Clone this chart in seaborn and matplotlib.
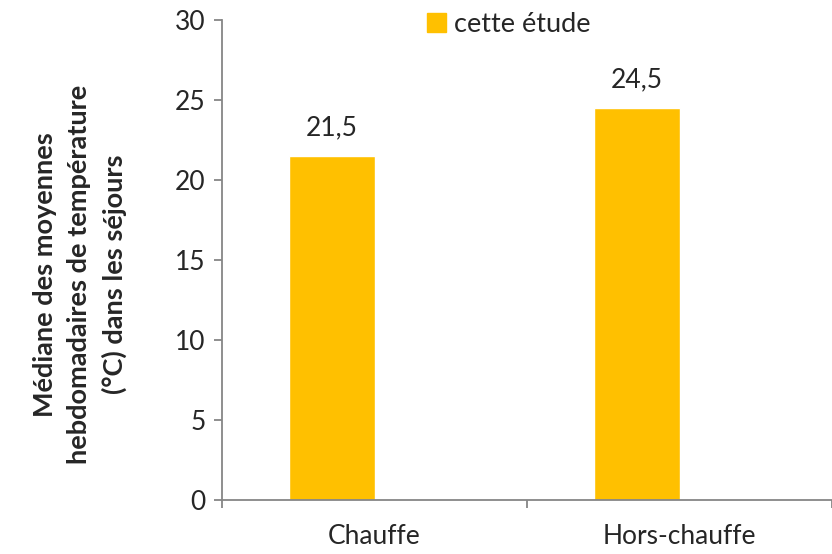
import matplotlib
matplotlib.use("Agg")
import matplotlib.pyplot as plt
import seaborn as sns
import pandas as pd
import numpy as np
from matplotlib.patches import Patch

periodes = ["Chauffe", "Hors-chauffe"]
medianes = [21.5, 24.5]
# second (empty) series kept so the bar sits on the left of each category, as in the source
medianes_vide = [np.nan, np.nan]
etiquettes = ["21,5", "24,5"]
y_ticks = [0, 5, 10, 15, 20, 25, 30]

df = pd.DataFrame({
    "periode": periodes * 2,
    "mediane": medianes + medianes_vide,
    "serie": ["cette étude"] * 2 + ["vide"] * 2,
})

sns.set_style("white")
plt.rcParams["font.family"] = ["Lato", "DejaVu Sans"]

fig = plt.figure(figsize=(8.32, 5.54), dpi=100)
ax = fig.add_axes([222 / 832, 54 / 554, 610 / 832, 480 / 554])

sns.barplot(data=df, x="periode", y="mediane", hue="serie",
            hue_order=["cette étude", "vide"], dodge=True,
            palette={"cette étude": "#FFC000", "vide": "#FFFFFF"},
            width=0.56, gap=0, ax=ax, saturation=1, legend=False)

ax.bar_label(ax.containers[0], labels=etiquettes, padding=11, fontsize=19)

gris = "#868686"
ax.set_ylim(0, 30)
ax.set_xlim(-0.5, 1.5)
ax.set_yticks(y_ticks)
ax.set_xticks([-0.5, 0.5, 1.5], minor=False)
ax.set_xticklabels(["", "", ""])
ax.set_xticks([0, 1], minor=True)
ax.set_xticklabels(periodes, minor=True)
ax.tick_params(axis="x", which="minor", bottom=False, length=0, pad=17, labelsize=19)
ax.tick_params(axis="x", which="major", bottom=True, length=6, width=1.3,
               color=gris, direction="out")
ax.tick_params(axis="y", left=True, length=6, width=1.3, color=gris,
               direction="out", pad=6, labelsize=19)

for side in ["top", "right"]:
    ax.spines[side].set_visible(False)
for side in ["left", "bottom"]:
    ax.spines[side].set_color(gris)
    ax.spines[side].set_linewidth(1.3)

ax.set_xlabel("")
ax.set_ylabel("Médiane des moyennes\nhebdomadaires de température\n(°C) dans les séjours",
              fontsize=19.5, fontweight="bold", linespacing=1.5)
ax.yaxis.label.set_va("center")
ax.yaxis.set_label_coords(-0.233, 0.47)

ax.legend(handles=[Patch(color="#FFC000", label="cette étude")], loc="center",
          bbox_to_anchor=(0.47, 0.99), frameon=False, fontsize=19.5,
          handlelength=0.7, handleheight=0.7, handletextpad=0.3)

fig.savefig("out.png", dpi=100)
